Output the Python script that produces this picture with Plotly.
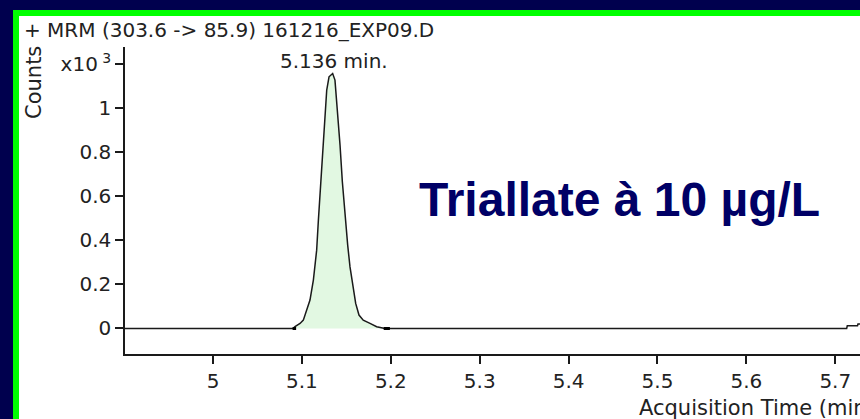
import plotly.graph_objects as go

# Chromatogram data (Counts, x10^3) vs Acquisition Time (min)
acq_time = [4.900, 5.0900, 5.0922, 5.0979, 5.1016, 5.1054, 5.1091, 5.1129, 5.1166, 5.1185,
            5.1204, 5.1223, 5.1241, 5.1260, 5.1279, 5.1305, 5.1346, 5.1372, 5.1391,
            5.1409, 5.1429, 5.1455, 5.1485, 5.1515, 5.1541, 5.1578, 5.1605, 5.1642,
            5.1690, 5.1766, 5.1841, 5.1935, 5.1990, 5.7128, 5.7135, 5.7250, 5.7255, 5.7350]
counts_k = [0.0, 0.0, 0.008, 0.023, 0.038, 0.083, 0.129, 0.220, 0.356, 0.490,
            0.614, 0.735, 0.848, 0.962, 1.083, 1.144, 1.159, 1.129, 1.038,
            0.932, 0.833, 0.667, 0.515, 0.379, 0.280, 0.189, 0.114, 0.061,
            0.038, 0.023, 0.008, 0.0, 0.0, 0.0, 0.012, 0.012, 0.020, 0.020]

peak_start, peak_end = 1, 32  # integrated peak region (indices)

# integration start / end markers on the baseline
mark_time = [5.0895, 5.0935, None, 5.1920, 5.1990]
mark_counts = [0.0, 0.0, None, 0.0, 0.0]

y_tickvals = [0, 0.2, 0.4, 0.6, 0.8, 1.0, 1.2]
y_ticktext = ["0", "0.2", "0.4", "0.6", "0.8", "1", "x10<sup> 3</sup>"]
x_tickvals = [5.0, 5.1, 5.2, 5.3, 5.4, 5.5, 5.6, 5.7]
x_ticktext = ["5", "5.1", "5.2", "5.3", "5.4", "5.5", "5.6", "5.7"]

title_text = "+ MRM (303.6 -> 85.9) 161216_EXP09.D"
peak_label = "5.136 min."
peak_label_time = 5.136
big_text = "Triallate à 10 µg/L"
x_title = "Acquisition Time (min)"
y_title = "Counts"

W, H = 860, 419
L, R, T, B = 125, 0, 47, 65
pw, ph = W - L - R, H - T - B

def px_x(px):
    return (px - L) / pw

def px_y(py):
    return (H - B - py) / ph

NAVY = "#00004e"
GREEN = "#00ff00"
FONT = "DejaVu Sans"
FS = 20

fig = go.Figure()
fig.add_trace(go.Scatter(
    x=acq_time[peak_start:peak_end + 1], y=counts_k[peak_start:peak_end + 1],
    mode="lines", line=dict(width=0), fill="tozeroy", fillcolor="#e2f8e2",
    hoverinfo="skip", showlegend=False))
fig.add_trace(go.Scatter(
    x=acq_time, y=counts_k, mode="lines",
    line=dict(color="#1a1a1a", width=1.5), showlegend=False))
fig.add_trace(go.Scatter(
    x=mark_time, y=mark_counts, mode="lines",
    line=dict(color="#000000", width=3), showlegend=False, hoverinfo="skip"))

shapes = [
    dict(type="rect", xref="paper", yref="paper", layer="below",
         x0=px_x(13), x1=px_x(900), y0=px_y(460), y1=px_y(10),
         fillcolor=GREEN, line=dict(width=0)),
    dict(type="rect", xref="paper", yref="paper", layer="below",
         x0=px_x(19), x1=px_x(900), y0=px_y(460), y1=px_y(16),
         fillcolor="white", line=dict(width=0)),
]

annotations = [
    dict(text=title_text, xref="paper", yref="paper", x=px_x(22), y=px_y(30),
         xanchor="left", yanchor="middle", showarrow=False,
         font=dict(family=FONT, size=FS, color="#222")),
    dict(text=peak_label, xref="x", yref="paper", x=peak_label_time, y=px_y(61),
         xanchor="center", yanchor="middle", showarrow=False,
         font=dict(family=FONT, size=FS, color="#222")),
    dict(text=y_title, xref="paper", yref="paper", x=px_x(34), y=px_y(83),
         xanchor="center", yanchor="middle", textangle=-90, showarrow=False,
         font=dict(family=FONT, size=21, color="#222")),
    dict(text=x_title, xref="paper", yref="paper", x=px_x(637), y=px_y(408),
         xanchor="left", yanchor="middle", showarrow=False,
         font=dict(family=FONT, size=21, color="#222")),
    dict(text="<b>" + big_text + "</b>", xref="paper", yref="paper",
         x=px_x(417), y=px_y(199), xanchor="left", yanchor="middle", showarrow=False,
         font=dict(family="Liberation Sans, Arial", size=48, color="#000066")),
]

fig.update_layout(
    width=W, height=H,
    margin=dict(l=L, r=R, t=T, b=B, pad=0),
    paper_bgcolor=NAVY, plot_bgcolor="rgba(0,0,0,0)",
    shapes=shapes, annotations=annotations, showlegend=False,
    xaxis=dict(range=[4.901, 5.7278], tickvals=x_tickvals, ticktext=x_ticktext,
               ticks="outside", ticklen=8, tickwidth=1.5, tickcolor="#1a1a1a",
               showline=True, linecolor="#1a1a1a", linewidth=1.5,
               showgrid=False, zeroline=False, automargin=False,
               tickfont=dict(family=FONT, size=FS, color="#222")),
    yaxis=dict(range=[-0.116, 1.2795], tickvals=y_tickvals, ticktext=y_ticktext,
               ticks="outside", ticklen=8, tickwidth=1.5, tickcolor="#1a1a1a",
               showline=True, linecolor="#1a1a1a", linewidth=1.5,
               showgrid=False, zeroline=False, automargin=False,
               tickfont=dict(family=FONT, size=FS, color="#222")),
)

fig.write_html(
    "out.html",
    config={"displayModeBar": False},
    post_script="document.body.style.margin='0px';document.body.style.overflow='hidden';"
                "document.body.style.background='" + NAVY + "';",
)
